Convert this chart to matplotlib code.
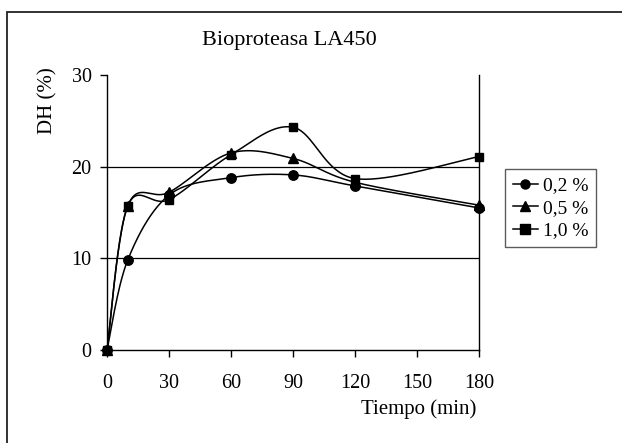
import numpy as np
import matplotlib
matplotlib.use("Agg")
import matplotlib.pyplot as plt
from matplotlib.patches import Rectangle
from matplotlib.lines import Line2D

plt.rcParams['font.family'] = ['Liberation Serif', 'DejaVu Serif']

tiempo = [0, 10, 30, 60, 90, 120, 180]
dh_02 = [0, 9.8, 16.9, 18.8, 19.1, 17.9, 15.5]
dh_05 = [0, 15.7, 17.2, 21.5, 20.9, 18.3, 15.8]
dh_10 = [0, 15.7, 16.4, 21.3, 24.3, 18.7, 21.1]
series_labels = ['0,2 %', '0,5 %', '1,0 %']
markers = ['o', '^', 's']
xticks = [0, 30, 60, 90, 120, 150, 180]
yticks = [0, 10, 20, 30]


def smooth(x, y, n=40):
    x = np.asarray(x, float); y = np.asarray(y, float)
    px, py = [], []
    m = len(x)
    for i in range(m - 1):
        p0 = np.array([x[max(i - 1, 0)], y[max(i - 1, 0)]])
        p1 = np.array([x[i], y[i]])
        p2 = np.array([x[i + 1], y[i + 1]])
        p3 = np.array([x[min(i + 2, m - 1)], y[min(i + 2, m - 1)]])
        c1 = p1 + (p2 - p0) / 6.0
        c2 = p2 - (p3 - p1) / 6.0
        t = np.linspace(0, 1, n)[:, None]
        b = ((1 - t) ** 3) * p1 + 3 * ((1 - t) ** 2) * t * c1 + 3 * (1 - t) * t ** 2 * c2 + t ** 3 * p2
        px.extend(b[:, 0]); py.extend(b[:, 1])
    return np.array(px), np.array(py)


W, H = 622, 443
fig = plt.figure(figsize=(W / 100, H / 100), dpi=100)
fig.patches.append(Rectangle((7 / W, -0.1), 1.0, 1 - 12 / H + 0.1, transform=fig.transFigure,
                             fill=False, edgecolor='#222222', linewidth=1.3))

ax = fig.add_axes([107 / W, 1 - 350 / H, (479 - 107) / W, (350 - 75) / H])
for ys, mk in zip([dh_02, dh_05, dh_10], markers):
    sx, sy = smooth(tiempo, ys)
    ax.plot(sx, sy, color='black', linewidth=1.1, zorder=3)
    ms = {'o': 6.8, '^': 7.0, 's': 6.0}[mk]
    ax.plot(tiempo, ys, linestyle='none', marker=mk, color='black', markersize=ms,
            zorder=4, clip_on=False)

ax.set_xlim(0, 180)
ax.set_ylim(0, 30)
ax.set_xticks(xticks)
ax.set_yticks(yticks)
for yv in [10, 20]:
    ax.axhline(yv, color='black', linewidth=0.9, zorder=1)
ax.spines['top'].set_visible(False)
for s in ['left', 'right', 'bottom']:
    ax.spines[s].set_linewidth(1.0)
ax.tick_params(direction='out', length=5, width=1.0, labelsize=14.5)
ax.tick_params(axis='x', pad=12)
ax.tick_params(axis='y', pad=6)

fig.text(289 / W, 1 - 41 / H, 'Bioproteasa LA450', ha='center', va='center', fontsize=16)
fig.text(48 / W, 1 - 101 / H, 'DH (%)', rotation=90, ha='center', va='center', fontsize=15)
fig.text(476 / W, 1 - 409 / H, 'Tiempo (min)', ha='right', va='center', fontsize=15)

handles = [Line2D([0], [0], color='black', linewidth=1.1, marker=mk, markersize=6.5) for mk in markers]
leg = fig.legend(handles, series_labels, loc='upper left',
                 bbox_to_anchor=(505 / W, 1 - 169 / H), fontsize=14, frameon=True,
                 fancybox=False, edgecolor='#333333', handlelength=1.3, handletextpad=0.25,
                 borderpad=0.4, labelspacing=0.25, borderaxespad=0)
leg.get_frame().set_linewidth(1.0)

fig.savefig('out.png', dpi=100)
